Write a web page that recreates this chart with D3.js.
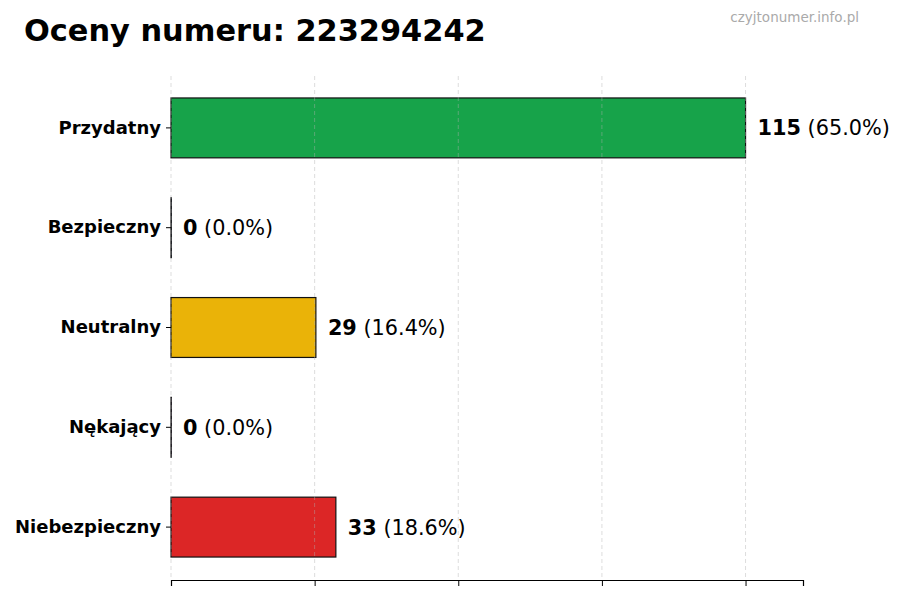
<!DOCTYPE html>
<html>
<head>
<meta charset="utf-8">
<script src="https://cdn.jsdelivr.net/npm/d3@7"></script>
<style>
  body { margin: 0; background: #fff; }
  svg { font-family: "DejaVu Sans", sans-serif; }
</style>
</head>
<body>
<div id="chart"></div>
<script>
const CATEGORIES = ['Przydatny', 'Bezpieczny', 'Neutralny', 'Nękający', 'Niebezpieczny'];
const VALUES = [115, 0, 29, 0, 33];
const PERCENTS = ['65.0%', '0.0%', '16.4%', '0.0%', '18.6%'];
const BAR_COLORS = ['#17a34a', '#2563eb', '#eab308', '#9333ea', '#dc2626'];
const X_TICKS = [0, 28.75, 57.5, 86.25, 115];
const TITLE = 'Oceny numeru: 223294242';
const WATERMARK = 'czyjtonumer.info.pl';

function drawChart() {
    const width = 900, height = 600;
    const svg = d3.select('#chart').append('svg')
        .attr('width', width)
        .attr('height', height);

    const x = d3.scaleLinear()
        .domain([0, 126.5])
        .range([171, 803]);

    const y = d3.scaleBand()
        .domain(CATEGORIES)
        .range([78, 577])
        .paddingInner(0.4)
        .paddingOuter(0.2);

    // bars (zero bars still get a thin edge, like the reference)
    svg.selectAll('.bar')
        .data(VALUES)
        .enter()
        .append('rect')
        .attr('class', 'bar')
        .attr('x', x(0))
        .attr('y', (d, i) => y(CATEGORIES[i]))
        .attr('width', d => Math.max(x(d) - x(0), 0.3))
        .attr('height', y.bandwidth())
        .attr('fill', (d, i) => BAR_COLORS[i])
        .attr('stroke', '#111')
        .attr('stroke-width', 1.2);

    // grid on top, faint
    svg.append('g')
        .selectAll('line')
        .data(X_TICKS)
        .enter()
        .append('line')
        .attr('x1', d => x(d))
        .attr('x2', d => x(d))
        .attr('y1', 76)
        .attr('y2', 580)
        .attr('stroke', '#b0b0b0')
        .attr('stroke-opacity', 0.55)
        .attr('stroke-dasharray', '4,3')
        .attr('stroke-width', 0.8);

    // bottom axis, no labels
    const xAxis = svg.append('g')
        .attr('transform', 'translate(0,580)')
        .call(d3.axisBottom(x).tickValues(X_TICKS).tickFormat('').tickSizeOuter(0).tickSize(6));
    xAxis.select('.domain').attr('stroke', '#000').attr('stroke-width', 1.2);
    xAxis.selectAll('.tick line').attr('stroke', '#000').attr('stroke-width', 1);

    // left axis, ticks + labels, no spine
    const yAxis = svg.append('g')
        .attr('transform', `translate(${x(0)},0)`)
        .call(d3.axisLeft(y).tickSize(5).tickPadding(5));
    yAxis.select('.domain').remove();
    yAxis.selectAll('.tick line').attr('stroke', '#000');
    yAxis.selectAll('text')
        .style('font-size', '18px')
        .style('font-weight', 'bold')
        .attr('fill', '#000')
        .attr('font-family', '"DejaVu Sans", sans-serif');

    // value labels
    const labels = svg.selectAll('.value-label')
        .data(VALUES)
        .enter()
        .append('text')
        .attr('class', 'value-label')
        .attr('x', d => x(d) + 12)
        .attr('y', (d, i) => y(CATEGORIES[i]) + y.bandwidth() / 2)
        .attr('dy', '0.36em')
        .style('font-size', '20.8px')
        .attr('fill', '#000');
    labels.append('tspan')
        .style('font-weight', 'bold')
        .text(d => d);
    labels.append('tspan')
        .text((d, i) => ` (${PERCENTS[i]})`);

    svg.append('text')
        .attr('x', 24)
        .attr('y', 41)
        .style('font-size', '30.4px')
        .style('font-weight', 'bold')
        .attr('fill', '#000')
        .text(TITLE);

    svg.append('text')
        .attr('x', 859)
        .attr('y', 22)
        .attr('text-anchor', 'end')
        .style('font-size', '13.5px')
        .attr('fill', '#aaaaaa')
        .text(WATERMARK);
}

document.addEventListener('DOMContentLoaded', drawChart);
</script>
</body>
</html>
